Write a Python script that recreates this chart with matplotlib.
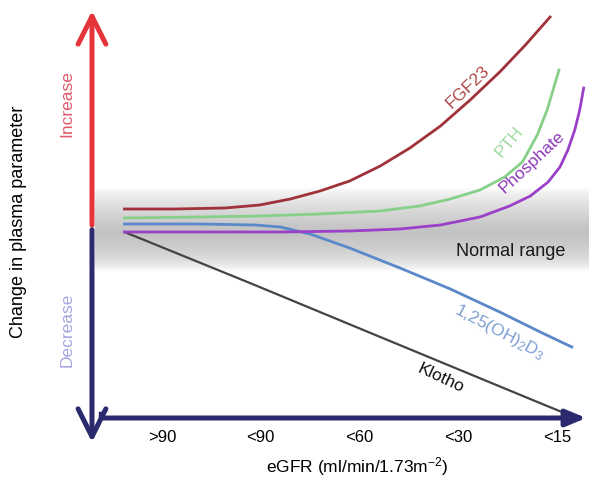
import matplotlib
matplotlib.use("Agg")
import matplotlib.pyplot as plt
import numpy as np
from matplotlib.patches import FancyArrowPatch

plt.rcParams['font.family'] = ['Liberation Sans', 'DejaVu Sans']
plt.rcParams['mathtext.fontset'] = 'custom'
plt.rcParams['mathtext.rm'] = 'Liberation Sans'
plt.rcParams['mathtext.it'] = 'Liberation Sans:italic'

# eGFR stages (x) and relative change of each plasma parameter (y, 0 = normal)
stages = ['>90', '<90', '<60', '<30', '<15']

fgf23_x = [-0.38, 0.13, 0.64, 0.99, 1.30, 1.60, 1.90, 2.21, 2.51, 2.82, 3.12, 3.42, 3.68, 3.93]
fgf23_y = [0.38, 0.38, 0.40, 0.46, 0.58, 0.74, 0.94, 1.24, 1.60, 2.04, 2.56, 3.12, 3.66, 4.22]

pth_x = [-0.38, 0.39, 0.99, 1.60, 2.21, 2.61, 2.92, 3.22, 3.47, 3.65, 3.80, 3.90, 3.96, 4.02]
pth_y = [0.20, 0.22, 0.24, 0.28, 0.34, 0.44, 0.58, 0.76, 1.02, 1.32, 1.86, 2.36, 2.76, 3.16]

phos_x = [-0.38, 0.39, 1.20, 1.90, 2.41, 2.82, 3.22, 3.52, 3.73, 3.91, 4.03, 4.11, 4.18, 4.23, 4.27]
phos_y = [-0.08, -0.08, -0.08, -0.06, -0.02, 0.06, 0.22, 0.44, 0.64, 0.92, 1.22, 1.56, 1.96, 2.36, 2.80]

vitd_x = [-0.38, 0.39, 0.94, 1.20, 1.50, 1.90, 2.41, 2.92, 3.42, 3.83, 4.15]
vitd_y = [0.08, 0.08, 0.06, 0.02, -0.12, -0.40, -0.80, -1.22, -1.68, -2.08, -2.38]

klotho_x = [-0.38, 0.89, 2.21, 3.90, 4.05]
klotho_y = [-0.08, -1.10, -2.18, -3.56, -3.68]

normal_low, normal_high = -0.88, 0.80

fig = plt.figure(figsize=(5.89, 4.79), dpi=100)
ax = fig.add_axes([0, 0, 1, 1])
ax.set_xlim(-1.6405, 4.324)
ax.set_ylim(-5.02, 4.56)
ax.axis('off')

# normal range band, shaded like a cylinder
yy = np.linspace(0, 1, 200)
shade = np.interp(yy, [0, 0.06, 0.2, 0.45, 0.55, 0.7, 0.85, 0.95, 1.0],
                  [1.0, 0.95, 0.88, 0.78, 0.76, 0.80, 0.86, 0.94, 1.0])
ax.imshow(shade[:, None] * np.ones((1, 50)), cmap='gray', vmin=0, vmax=1,
          extent=[-0.68, 4.324, normal_low, normal_high], origin='upper',
          aspect='auto', interpolation='bilinear', zorder=0)

# curves
ax.plot(fgf23_x, fgf23_y, color='#a0323a', lw=2, zorder=3)
ax.plot(pth_x, pth_y, color='#86d08a', lw=2, zorder=3)
ax.plot(vitd_x, vitd_y, color='#5b88c9', lw=2, zorder=3)
ax.plot(phos_x, phos_y, color='#9b40c8', lw=2, zorder=3)
ax.plot(klotho_x, klotho_y, color='#444444', lw=1.6, zorder=2)

# vertical axis arrows
ax.add_patch(FancyArrowPatch((-0.709, 0), (-0.709, 4.40), arrowstyle='->,head_length=1.0,head_width=0.5',
                             mutation_scale=20, lw=3.6, color='#e5343a', zorder=4))
ax.add_patch(FancyArrowPatch((-0.709, 0.02), (-0.709, -4.34), arrowstyle='->,head_length=1.0,head_width=0.5',
                             mutation_scale=20, lw=3.6, color='#2b2a6e', zorder=4))
# horizontal axis arrow
ax.add_patch(FancyArrowPatch((-0.628, -3.80), (4.324, -3.80), arrowstyle='-|>,head_length=0.6,head_width=0.25',
                             mutation_scale=20, lw=3.6, color='#2b2a6e', zorder=4))
ax.plot([-0.628, -0.628], [-3.80, -3.70], color='#2b2a6e', lw=2.5)

for i, s in enumerate(stages):
    ax.text(i, -4.18, s, ha='center', va='center', fontsize=12)
ax.text(1.975, -4.78, 'eGFR (ml/min/1.73m$^{-2}$)', ha='center', va='center', fontsize=12.5)
ax.text(-1.458, 0.12, 'Change in plasma parameter', rotation=90, ha='center', va='center', fontsize=13)
ax.text(-0.962, 2.48, 'Increase', rotation=90, ha='center', va='center', fontsize=12.5, color='#e05a6a')
ax.text(-0.962, -2.04, 'Decrease', rotation=90, ha='center', va='center', fontsize=12.5, color='#a5a5e0')

ax.text(3.534, -0.48, 'Normal range', ha='center', va='center', fontsize=13, color='#1a1a1a')
ax.text(3.10, 2.82, 'FGF23', rotation=44, ha='center', va='center', fontsize=12.5, color='#b3484a')
ax.text(3.52, 1.72, 'PTH', rotation=50, ha='center', va='center', fontsize=12.5, color='#a0daa0')
ax.text(3.75, 1.32, 'Phosphate', rotation=43, ha='center', va='center', fontsize=12.5, color='#8e3ab8')
ax.text(3.42, -2.08, '1,25(OH)$_2$D$_3$', rotation=-28, ha='center', va='center', fontsize=12.5, color='#7f9fd4')
ax.text(2.82, -3.00, 'Klotho', rotation=-25, ha='center', va='center', fontsize=12.5, color='#111111')

fig.savefig('out.png', dpi=100)
